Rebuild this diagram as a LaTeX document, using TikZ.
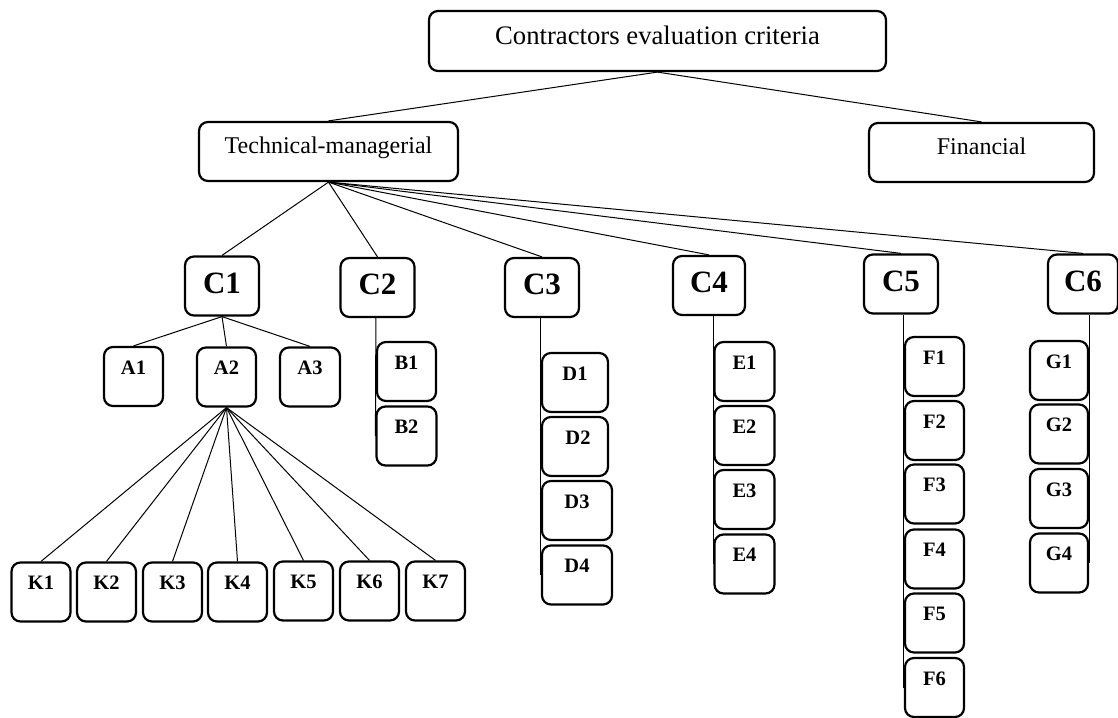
\documentclass[tikz,border=0pt]{standalone}
\usepackage{fontspec}
\setmainfont{Liberation Serif}
\usetikzlibrary{backgrounds}
\begin{document}
\begin{tikzpicture}[x=1pt,y=-1pt,
  box/.style={draw, line width=2.2pt, rounded corners=9pt, fill=white, inner sep=0pt, align=center},
  bigbox/.style={box, font=\fontsize{24}{28}\selectfont, text height=17pt, text depth=13.4pt},
  cbox/.style={box, font=\fontsize{31}{36}\bfseries, text height=22pt, text depth=7.6pt, minimum width=74pt, minimum height=59pt},
  sbox/.style={box, font=\fontsize{20.5}{24}\bfseries, text height=14pt, text depth=18.8pt, minimum width=59pt, minimum height=59pt},
  conn/.style={line width=1pt}]
\useasboundingbox (0,0) rectangle (1118,717);

% top levels
\node[bigbox, font=\fontsize{26.7}{30}\selectfont, text height=19pt, text depth=11.4pt, minimum width=457pt, minimum height=60pt] (root) at (657.5,41) {Contractors evaluation criteria};
\node[bigbox, minimum width=259pt, minimum height=59pt] (tech) at (328.5,151.5) {Technical-managerial};
\node[bigbox, minimum width=225pt, minimum height=59pt] (fin) at (981.5,152.5) {Financial};

% criteria
\node[cbox] (C1) at (222,286) {C1};
\node[cbox] (C2) at (377.5,287.5) {C2};
\node[cbox] (C3) at (542,287.5) {C3};
\node[cbox, minimum width=72pt] (C4) at (709,285.5) {C4};
\node[cbox] (C5) at (901,284) {C5};
\node[cbox, minimum width=70pt] (C6) at (1083,284) {C6};

% A
\node[sbox] (A1) at (133.5,376.5) {A1};
\node[sbox] (A2) at (226.5,377) {A2};
\node[sbox, minimum width=60pt] (A3) at (310,377) {A3};

% K
\node[sbox] (K1) at (41,592) {K1};
\node[sbox] (K2) at (106.5,592) {K2};
\node[sbox] (K3) at (172.5,592) {K3};
\node[sbox] (K4) at (237.5,592) {K4};
\node[sbox] (K5) at (303.5,591) {K5};
\node[sbox] (K6) at (369.5,591) {K6};
\node[sbox] (K7) at (435.5,591) {K7};

% B
\node[sbox] (B1) at (406.5,371.5) {B1};
\node[sbox, minimum width=60pt] (B2) at (406.5,436) {B2};

% D
\node[sbox, minimum width=66pt] (D1) at (575,382.5) {D1};
\node[sbox, minimum width=66pt] (D2) at (575,446.5) {\hspace*{6pt}D2};
\node[sbox, minimum width=70pt] (D3) at (577,510.5) {D3};
\node[sbox, minimum width=70pt] (D4) at (577,575) {D4};

% E
\node[sbox, minimum width=60pt] (E1) at (744.5,371.5) {E1};
\node[sbox, minimum width=60pt] (E2) at (744.5,435.5) {E2};
\node[sbox, minimum width=60pt] (E3) at (744.5,499.5) {E3};
\node[sbox, minimum width=60pt] (E4) at (744.5,564) {E4};

% F
\node[sbox] (F1) at (934.5,366.5) {F1};
\node[sbox] (F2) at (934.5,430.5) {F2};
\node[sbox] (F3) at (934.5,494) {F3};
\node[sbox] (F4) at (934.5,559) {F4};
\node[sbox] (F5) at (934.5,623) {F5};
\node[sbox] (F6) at (934.5,687.5) {F6};

% G
\node[sbox, minimum width=58pt] (G1) at (1059,370.5) {G1};
\node[sbox, minimum width=58pt] (G2) at (1059,434) {G2};
\node[sbox, minimum width=58pt] (G3) at (1059,498.5) {G3};
\node[sbox, minimum width=58pt] (G4) at (1059,563) {G4};

\begin{pgfonlayer}{background}
\draw[conn] (root.south) -- (tech.north);
\draw[conn] (root.south) -- (fin.north);
\foreach \c in {C1,C2,C3,C4,C5,C6}
  \draw[conn] (tech.south) -- (\c.north);
\foreach \a in {A1,A2,A3}
  \draw[conn] (C1.south) -- (\a.north);
\foreach \k in {K1,K2,K3,K4,K5,K6,K7}
  \draw[conn] (A2.south) -- (\k.north);
\draw[conn] (C2.south -| B1.west) -- (B2.west);
\draw[conn] (C3.south -| D1.west) -- (D4.west);
\draw[conn] (C4.south -| E1.west) -- (E4.west);
\draw[conn] (C5.south -| F1.west) -- (F6.west);
\draw[conn] (C6.south -| G1.east) -- (G4.east);
\end{pgfonlayer}
\end{tikzpicture}
\end{document}
